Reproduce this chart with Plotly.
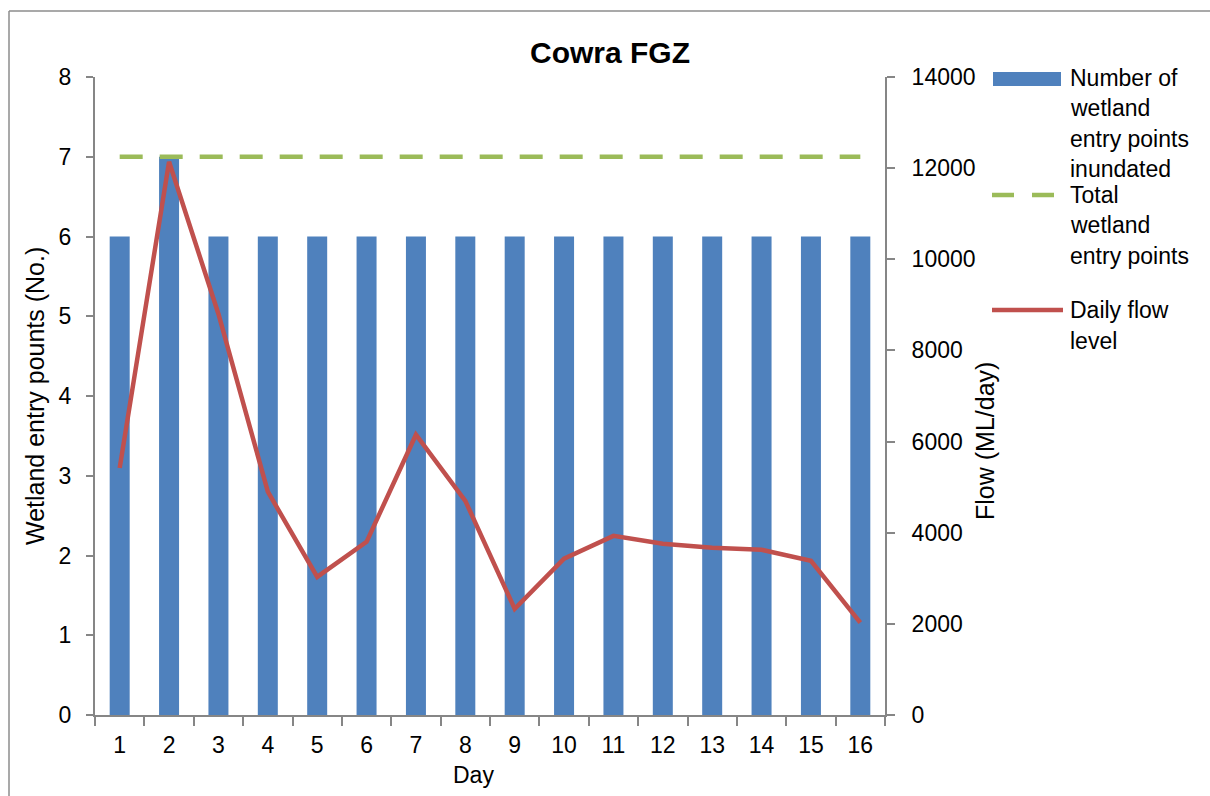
import plotly.graph_objects as go

# ---- data ----
days = [str(d) for d in range(1, 17)]
entry_points_inundated = [6, 7, 6, 6, 6, 6, 6, 6, 6, 6, 6, 6, 6, 6, 6, 6]
total_entry_points = [7] * 16
daily_flow = [5420, 12140, 8800, 4900, 3030, 3800, 6150, 4700,
              2330, 3430, 3930, 3760, 3670, 3625, 3385, 2025]

left_ticks = list(range(0, 9))
right_ticks = list(range(0, 14001, 2000))

# ---- layout geometry (pixels) ----
W, H = 1210, 796
PL, PR, PT, PB = 95, 885, 77, 715          # plot area edges


def fx(px):
    return (px - PL) / (PR - PL)


def fy(py):
    return (PB - py) / (PB - PT)


FONT = "Liberation Sans, Arial, sans-serif"
AXIS_COL = "#868686"
BLUE = "#4F81BD"
GREEN = "#9BBB59"
RED = "#C0504D"

fig = go.Figure()

fig.add_trace(go.Bar(
    x=days, y=entry_points_inundated, name="Number of wetland entry points inundated",
    marker=dict(color=BLUE, line=dict(width=0)), yaxis="y", showlegend=False,
))
fig.add_trace(go.Scatter(
    x=days, y=total_entry_points, name="Total wetland entry points", mode="lines",
    line=dict(color=GREEN, width=4.5, dash="23px,17px"), yaxis="y", showlegend=False,
))
fig.add_trace(go.Scatter(
    x=days, y=daily_flow, name="Daily flow level", mode="lines",
    line=dict(color=RED, width=4.5), yaxis="y2", showlegend=False,
))

tick_font = dict(family=FONT, size=23, color="black")

fig.update_layout(
    width=W, height=H,
    margin=dict(l=PL, r=W - PR, t=PT, b=H - PB, pad=0),
    paper_bgcolor="white", plot_bgcolor="white",
    bargap=0.595,
    font=dict(family=FONT, color="black"),
    xaxis=dict(
        type="category", tickson="boundaries", ticks="outside", ticklen=9,
        tickcolor=AXIS_COL, tickwidth=1.5, showline=True, linecolor=AXIS_COL,
        linewidth=2, showgrid=False, tickfont=tick_font, ticklabelstandoff=8,
    ),
    yaxis=dict(
        range=[0, 8], tickvals=left_ticks, ticks="outside", ticklen=7,
        tickcolor=AXIS_COL, tickwidth=1.5, showline=True, linecolor=AXIS_COL,
        linewidth=2, showgrid=False, zeroline=False, tickfont=tick_font,
        ticklabelstandoff=10,
    ),
    yaxis2=dict(
        range=[0, 14000], tickvals=right_ticks, tickformat="d", overlaying="y",
        side="right", ticks="outside", ticklen=8, tickcolor=AXIS_COL, tickwidth=1.5,
        showline=True, linecolor=AXIS_COL, linewidth=2, showgrid=False,
        zeroline=False, tickfont=tick_font, ticklabelstandoff=12,
    ),
)

annotations = []
shapes = []

# title and axis titles
annotations.append(dict(text="<b>Cowra FGZ</b>", x=fx(610), y=fy(52), xref="paper", yref="paper",
                        showarrow=False, font=dict(family=FONT, size=30, color="black"),
                        xanchor="center", yanchor="middle"))
annotations.append(dict(text="Wetland entry pounts (No.)", x=fx(35), y=fy(396), xref="paper",
                        yref="paper", showarrow=False, textangle=-90,
                        font=dict(family=FONT, size=25, color="black"),
                        xanchor="center", yanchor="middle"))
annotations.append(dict(text="Flow (ML/day)", x=fx(985), y=fy(441), xref="paper",
                        yref="paper", showarrow=False, textangle=-90,
                        font=dict(family=FONT, size=25, color="black"),
                        xanchor="center", yanchor="middle"))
annotations.append(dict(text="Day", x=fx(473), y=fy(775), xref="paper", yref="paper",
                        showarrow=False, font=dict(family=FONT, size=23, color="black"),
                        xanchor="center", yanchor="middle"))

# legend drawn beside the plot
legend_font = dict(family=FONT, size=23, color="black")
legend_items = [
    (["Number of", "wetland", "entry points", "inundated"], 78),
    (["Total", "wetland", "entry points"], 195),
    (["Daily flow", "level"], 310),
]
for lines, y0 in legend_items:
    for i, line in enumerate(lines):
        annotations.append(dict(text=line, x=fx(1068), y=fy(y0 + i * 30.5), xref="paper",
                                yref="paper", showarrow=False, font=legend_font,
                                xanchor="left", yanchor="middle"))

shapes.append(dict(type="rect", xref="paper", yref="paper", x0=fx(993), x1=fx(1061),
                   y0=fy(72), y1=fy(86), fillcolor=BLUE, line=dict(width=0)))
shapes.append(dict(type="line", xref="paper", yref="paper", x0=fx(992), x1=fx(1054),
                   y0=fy(195), y1=fy(195), line=dict(color=GREEN, width=4.5, dash="22px,18px")))
shapes.append(dict(type="line", xref="paper", yref="paper", x0=fx(992), x1=fx(1063),
                   y0=fy(310), y1=fy(310), line=dict(color=RED, width=4.5)))

# chart frame (top and left edges)
frame = dict(color="#8c8c8c", width=1.5)
shapes.append(dict(type="line", xref="paper", yref="paper", x0=fx(9), x1=fx(1215),
                   y0=fy(11), y1=fy(11), line=frame, layer="below"))
shapes.append(dict(type="line", xref="paper", yref="paper", x0=fx(9), x1=fx(9),
                   y0=fy(11), y1=fy(800), line=frame, layer="below"))

fig.update_layout(annotations=annotations, shapes=shapes)

fig.write_html("out.html")
